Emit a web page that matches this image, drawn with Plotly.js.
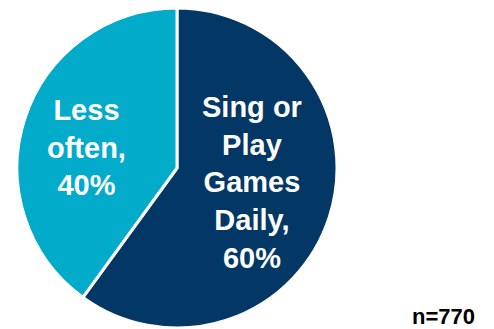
<!DOCTYPE html>
<html>
<head>
<meta charset="utf-8">
<script src="https://cdn.plot.ly/plotly-3.0.1.min.js"></script>
<style>html,body{margin:0;padding:0;background:#fff;}#chart{width:494px;height:329px;}</style>
</head>
<body>
<div id="chart"></div>
<script>
const labels = ["Sing or<br>Play<br>Games<br>Daily", "Less<br>often"];
const values = [60, 40];
const colors = ["#033766", "#02ABC9"];
const sampleNote = "n=770";

const labelPos = [[252, 182], [86, 148]];
const W = 494, H = 329;

const annotations = labels.map((l, i) => ({
  text: "<b>" + l + ",<br>" + values[i] + "%</b>",
  xref: "paper", yref: "paper",
  x: labelPos[i][0] / W, y: 1 - labelPos[i][1] / H,
  xanchor: "center", yanchor: "middle",
  showarrow: false,
  font: {family: "Liberation Sans, Arial, sans-serif", size: 29, color: "#ffffff"}
}));
annotations.push({
  text: "<b>" + sampleNote + "</b>",
  xref: "paper", yref: "paper",
  x: 443 / W, y: 1 - 316 / H,
  xanchor: "center", yanchor: "middle",
  showarrow: false,
  font: {family: "Liberation Sans, Arial, sans-serif", size: 22, color: "#000000"}
});

Plotly.newPlot("chart", [{
  type: "pie",
  labels: labels,
  values: values,
  sort: false,
  direction: "clockwise",
  rotation: 0,
  textinfo: "none",
  hoverinfo: "skip",
  marker: {colors: colors, line: {color: "#ffffff", width: 3}},
  domain: {x: [17 / W, 337 / W], y: [1 - 328 / H, 1 - 8 / H]}
}], {
  width: W, height: H,
  margin: {l: 0, r: 0, t: 0, b: 0},
  showlegend: false,
  paper_bgcolor: "#ffffff",
  annotations: annotations
}, {staticPlot: true, displayModeBar: false});
</script>
</body>
</html>
